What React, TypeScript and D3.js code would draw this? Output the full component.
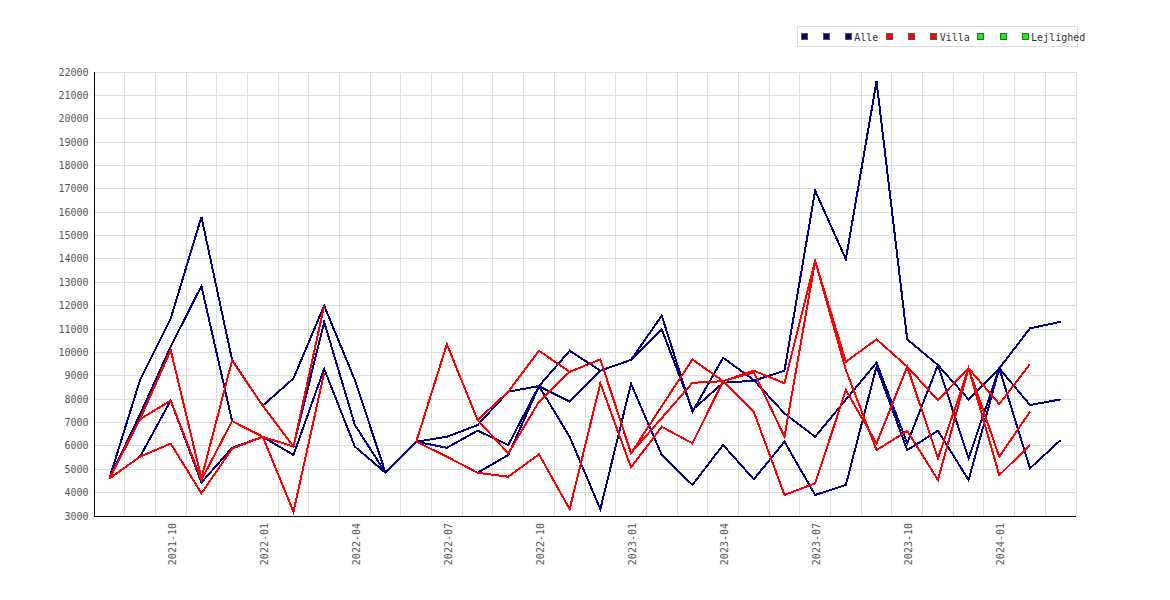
import React from "react";
import * as d3 from "d3";

// monthly periods on the x axis
const months = [
  "2021-08", "2021-09", "2021-10", "2021-11", "2021-12",
  "2022-01", "2022-02", "2022-03", "2022-04", "2022-05", "2022-06",
  "2022-07", "2022-08", "2022-09", "2022-10", "2022-11", "2022-12",
  "2023-01", "2023-02", "2023-03", "2023-04", "2023-05", "2023-06",
  "2023-07", "2023-08", "2023-09", "2023-10", "2023-11", "2023-12",
  "2024-01", "2024-02", "2024-03",
];
const xTickLabels = [
  "2021-10", "2022-01", "2022-04", "2022-07", "2022-10", "2023-01",
  "2023-04", "2023-07", "2023-10", "2024-01",
];
const yTicks = [
  3000, 4000, 5000, 6000, 7000, 8000, 9000, 10000, 11000, 12000, 13000,
  14000, 15000, 16000, 17000, 18000, 19000, 20000, 21000, 22000,
];

type V = number | null;

const alle1: V[] = [4600, 8820, 11450, 15800, 9680, 7720, 8890, 12000, 8820, 4850, 6180, 6390, 6890, 8320, 8560, 10070, 9220, 9680, 11570, 7460, 9770, 8820, 7390, 6390, 7980, 9560, 6110, 9460, 5470, 9320, 11030, 11310];
const alle2: V[] = [4600, 7350, 10250, 12840, 7060, 6390, 5970, 11300, 6900, 4850, 6180, 5920, 6650, 6040, 8560, 7890, 9220, 9680, 10990, 7540, 8700, 8790, 9220, 16920, 13990, 21600, 10560, 9460, 7990, 9320, 7750, 7990];
const alle3: V[] = [4600, 5540, 7940, 4430, 5920, 6390, 5610, 9300, 5970, 4850, 6180, 5540, 4850, 5610, 8560, 6390, 3290, 8660, 5610, 4330, 6040, 4570, 6180, 3900, 4330, 9390, 5820, 6650, 4540, 9320, 5040, 6250];

const villa1: V[] = [4600, 7140, 10100, 4610, 9650, 7720, 5970, 12000, null, null, 6180, 10350, 7110, 8320, 10070, 9170, 9700, 5680, 7700, 9700, 8770, 7460, 3900, 4400, 8390, 6110, 9390, 5470, 9320, 5540, 7460, null];
const villa2: V[] = [4600, 7140, 7940, 4540, 7060, 6390, 5970, 12000, null, null, 6180, 10350, 7110, 5680, 7890, 9170, 9700, 5700, 7190, 8700, 8770, 9220, 8680, 13920, 9600, 10560, 9390, 7960, 9320, 7790, 9500, null];
const villa3: V[] = [4600, 5540, 6100, 3970, 5880, 6390, 3180, 9130, null, null, 6180, 5540, 4850, 4680, 5640, 3290, 8680, 5080, 6820, 6110, 8770, 9150, 6390, 13920, 9250, 5820, 6640, 4540, 9320, 4750, 6040, null];

const lejlighed1: V[] = [];
const lejlighed2: V[] = [];
const lejlighed3: V[] = [];

const legendLabels = ["", "", "Alle", "", "", "Villa", "", "", "Lejlighed"];

const NAVY = "#000080";
const RED = "#ff0000";
const GREEN = "#00ff00";
const FONT = "'DejaVu Sans Mono', monospace";

const LEFT = 94;
const RIGHT = 1076;
const TOP = 72;
const BOTTOM = 516;

export default function App() {
  const x = d3.scaleBand<string>().domain(months).range([LEFT, RIGHT]);
  const cx = (m: string) => (x(m) ?? 0) + x.bandwidth() / 2;
  const y = d3.scaleLinear().domain([3000, 22000]).range([BOTTOM, TOP]);

  const line = d3
    .line<V>()
    .defined((d) => d != null)
    .x((_, i) => cx(months[i]))
    .y((d) => y(d as number));

  const series = [
    { data: alle1, color: NAVY },
    { data: alle2, color: NAVY },
    { data: alle3, color: NAVY },
    { data: villa1, color: RED },
    { data: villa2, color: RED },
    { data: villa3, color: RED },
    { data: lejlighed1, color: GREEN },
    { data: lejlighed2, color: GREEN },
    { data: lejlighed3, color: GREEN },
  ];

  // legend layout, JpGraph style
  let lx = 801;
  const legend = legendLabels.map((label, i) => {
    const item = { x: lx, label, color: series[i].color };
    lx += label ? 6 + 2.7 + label.length * 6.02 + 8 : 22.3;
    return item;
  });

  const gridX = months.map((m) => x(m) ?? 0).concat([RIGHT]);

  return (
    <div style={{ position: "absolute", left: 0, top: 0 }}>
      <svg width={1170} height={600} style={{ display: "block", background: "#fff" }}>
        {/* grid */}
        <g stroke="#dddddd" strokeWidth={1} shapeRendering="crispEdges">
          {yTicks.map((t) => (
            <line key={t} x1={LEFT} x2={RIGHT} y1={y(t)} y2={y(t)} />
          ))}
          {gridX.map((gx, i) => (
            <line key={i} x1={gx} x2={gx} y1={TOP} y2={BOTTOM} />
          ))}
        </g>

        {/* axes */}
        <g stroke="#000" strokeWidth={1} shapeRendering="crispEdges">
          <line x1={LEFT} x2={LEFT} y1={TOP} y2={BOTTOM} />
          <line x1={LEFT} x2={RIGHT} y1={BOTTOM} y2={BOTTOM} />
        </g>

        {/* y labels */}
        <g fontFamily={FONT} fontSize={10} fill="#555">
          {yTicks.map((t) => (
            <text key={t} x={88.5} y={y(t)} dy="0.35em" textAnchor="end">
              {t}
            </text>
          ))}
        </g>

        {/* x labels */}
        <g fontFamily={FONT} fontSize={10} fill="#555">
          {xTickLabels.map((m) => (
            <text
              key={m}
              transform={`translate(${cx(m) + 5},523) rotate(-90)`}
              textAnchor="end"
            >
              {m}
            </text>
          ))}
        </g>

        {/* lines */}
        <g fill="none" strokeWidth={2} strokeLinejoin="miter" shapeRendering="crispEdges">
          {series.map((s, i) =>
            s.data.length ? <path key={i} d={line(s.data) ?? ""} stroke={s.color} /> : null
          )}
        </g>

        {/* legend */}
        <rect x={797} y={26} width={280} height={20} fill="#fff" stroke="#dddddd" shapeRendering="crispEdges" />
        <g fontFamily={FONT} fontSize={10} fill="#333">
          {legend.map((it, i) => (
            <g key={i}>
              <rect
                x={it.x}
                y={33}
                width={6}
                height={6}
                fill={it.color}
                stroke="#555"
                strokeWidth={1}
                shapeRendering="crispEdges"
              />
              {it.label ? (
                <text x={it.x + 8.7} y={40.5}>
                  {it.label}
                </text>
              ) : null}
            </g>
          ))}
        </g>
      </svg>
    </div>
  );
}
